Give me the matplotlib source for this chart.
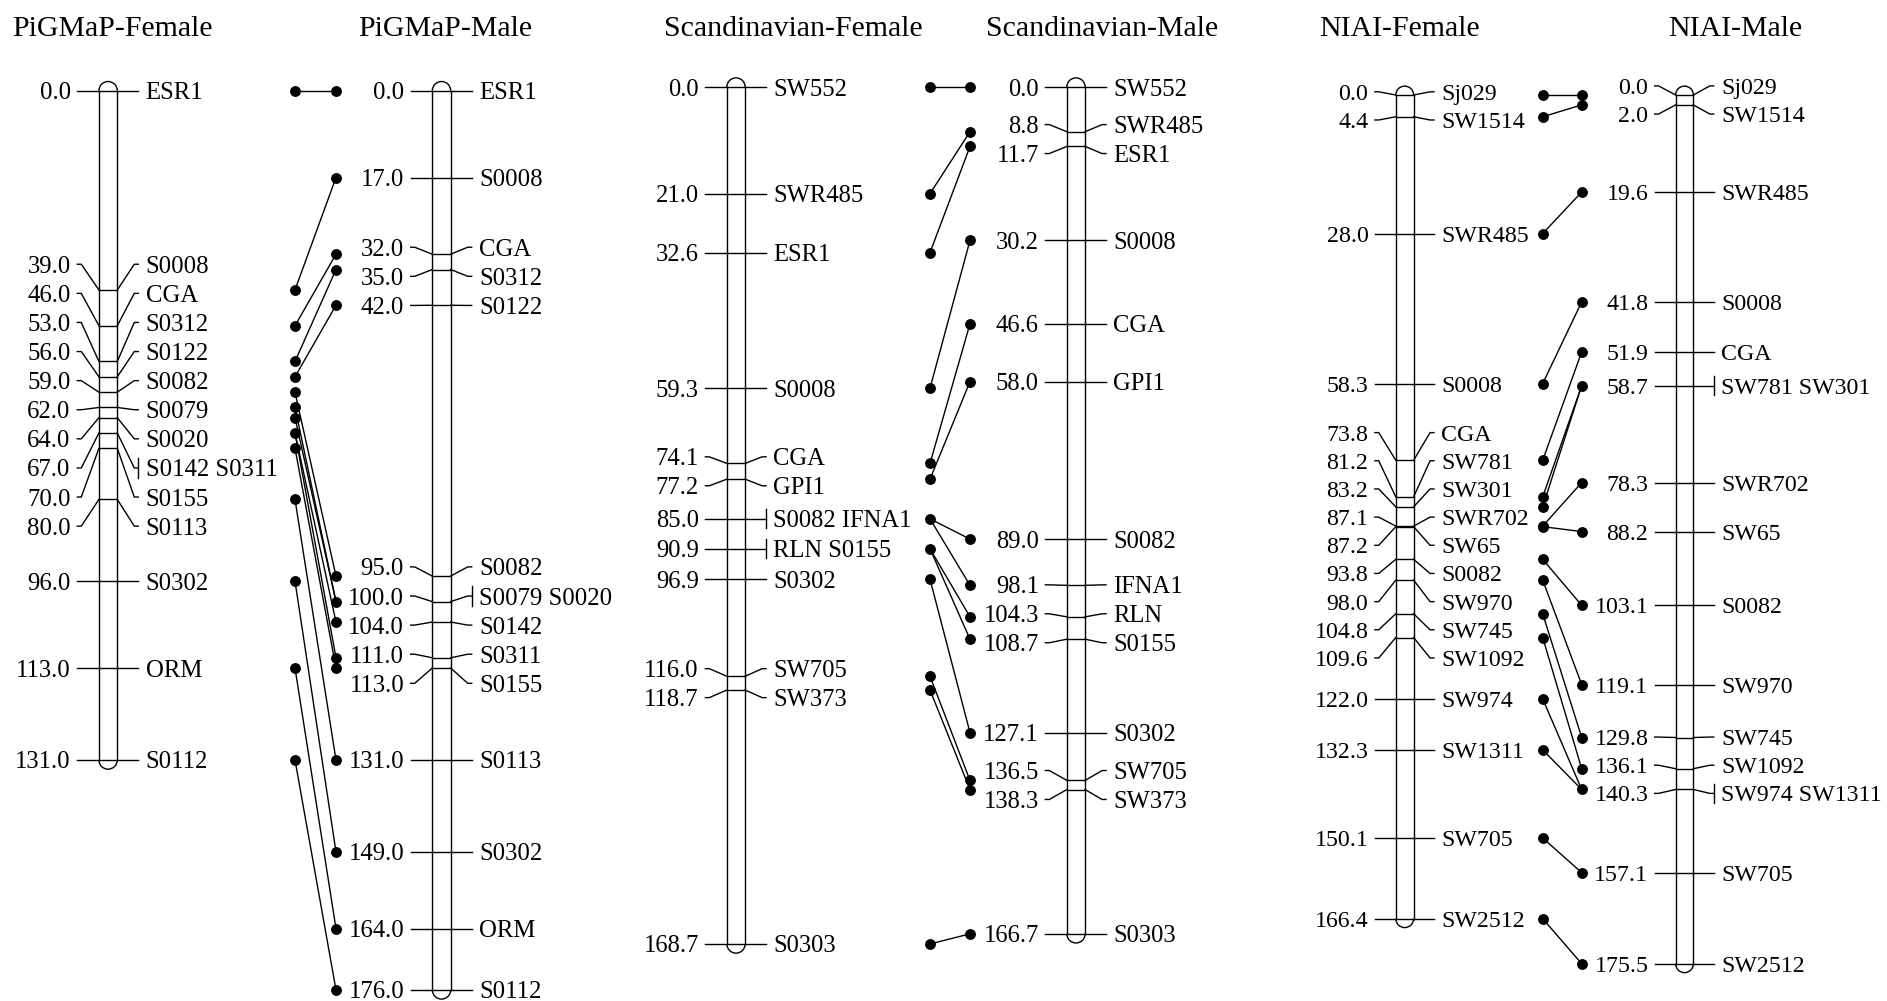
import numpy as np
import matplotlib.pyplot as plt
from matplotlib.patches import Arc

plt.rcParams['font.family'] = ['Liberation Serif', 'DejaVu Serif']

# ---- data: marker names and positions (cM) for each map ----
pig_f_names = ['ESR1', 'S0008', 'CGA', 'S0312', 'S0122', 'S0082', 'S0079', 'S0020',
               'S0142 S0311', 'S0155', 'S0113', 'S0302', 'ORM', 'S0112']
pig_f_pos = [0.0, 39.0, 46.0, 53.0, 56.0, 59.0, 62.0, 64.0, 67.0, 70.0, 80.0, 96.0, 113.0, 131.0]

pig_m_names = ['ESR1', 'S0008', 'CGA', 'S0312', 'S0122', 'S0082', 'S0079 S0020', 'S0142',
               'S0311', 'S0155', 'S0113', 'S0302', 'ORM', 'S0112']
pig_m_pos = [0.0, 17.0, 32.0, 35.0, 42.0, 95.0, 100.0, 104.0, 111.0, 113.0, 131.0, 149.0, 164.0, 176.0]

sca_f_names = ['SW552', 'SWR485', 'ESR1', 'S0008', 'CGA', 'GPI1', 'S0082 IFNA1', 'RLN S0155',
               'S0302', 'SW705', 'SW373', 'S0303']
sca_f_pos = [0.0, 21.0, 32.6, 59.3, 74.1, 77.2, 85.0, 90.9, 96.9, 116.0, 118.7, 168.7]

sca_m_names = ['SW552', 'SWR485', 'ESR1', 'S0008', 'CGA', 'GPI1', 'S0082', 'IFNA1', 'RLN',
               'S0155', 'S0302', 'SW705', 'SW373', 'S0303']
sca_m_pos = [0.0, 8.8, 11.7, 30.2, 46.6, 58.0, 89.0, 98.1, 104.3, 108.7, 127.1, 136.5, 138.3, 166.7]

niai_f_names = ['Sj029', 'SW1514', 'SWR485', 'S0008', 'CGA', 'SW781', 'SW301', 'SWR702', 'SW65',
                'S0082', 'SW970', 'SW745', 'SW1092', 'SW974', 'SW1311', 'SW705', 'SW2512']
niai_f_pos = [0.0, 4.4, 28.0, 58.3, 73.8, 81.2, 83.2, 87.1, 87.2, 93.8, 98.0, 104.8, 109.6,
              122.0, 132.3, 150.1, 166.4]

niai_m_names = ['Sj029', 'SW1514', 'SWR485', 'S0008', 'CGA', 'SW781 SW301', 'SWR702', 'SW65',
                'S0082', 'SW970', 'SW745', 'SW1092', 'SW974 SW1311', 'SW705', 'SW2512']
niai_m_pos = [0.0, 2.0, 19.6, 41.8, 51.9, 58.7, 78.3, 88.2, 103.1, 119.1, 129.8, 136.1, 140.3,
              157.1, 175.5]

titles = ['PiGMaP-Female', 'PiGMaP-Male', 'Scandinavian-Female', 'Scandinavian-Male',
          'NIAI-Female', 'NIAI-Male']

# ---- layout (pixel units) ----
W, H = 1887, 1001
fig = plt.figure(figsize=(W / 100, H / 100), dpi=100)
ax = fig.add_axes([0, 0, 1, 1])
ax.set_xlim(0, W)
ax.set_ylim(H, 0)
ax.axis('off')

LW = 1.0
FS = 17.8


def spread(ys, h):
    # push crowded labels apart, keeping each cluster centred on its markers
    groups = [[y] for y in ys]
    merged = True
    while merged:
        merged = False
        for i in range(len(groups) - 1):
            a, b = groups[i], groups[i + 1]
            sa = np.mean(a) - (len(a) - 1) * h / 2
            sb = np.mean(b) - (len(b) - 1) * h / 2
            if sb < sa + len(a) * h - 1e-6:
                groups[i] = a + b
                del groups[i + 1]
                merged = True
                break
    out = []
    for g in groups:
        s = np.mean(g) - (len(g) - 1) * h / 2
        out += [s + j * h for j in range(len(g))]
    return out


def draw_map(c, names, pos, top, sc, k):
    ys = top + sc * np.array(pos)
    ly = spread(ys, 29.1 * k)
    hw = 9.2 * k
    ax.plot([c - hw, c - hw], [ys[0], ys[-1]], color='k', lw=LW)
    ax.plot([c + hw, c + hw], [ys[0], ys[-1]], color='k', lw=LW)
    ax.add_patch(Arc((c, ys[0]), 2 * hw, 2 * hw, theta1=180, theta2=360, color='k', lw=LW))
    ax.add_patch(Arc((c, ys[-1]), 2 * hw, 2 * hw, theta1=0, theta2=180, color='k', lw=LW))
    xl, xr = c - 30.8 * k, c + 30.2 * k
    for name, p, y, l in zip(names, pos, ys, ly):
        ax.plot([c - hw, c + hw], [y, y], color='k', lw=LW)
        ax.plot([xl, xl + 4 * k, c - hw], [l, l, y], color='k', lw=LW)
        ax.plot([c + hw, xr - 4 * k, xr], [y, l, l], color='k', lw=LW)
        if ' ' in name:
            ax.plot([xr, xr], [l - 9.7 * k, l + 9.7 * k], color='k', lw=LW)
        ax.text(c - 37.4 * k, l, f'{p:.1f}', ha='right', va='center_baseline', fontsize=FS * k)
        ax.text(c + 37.6 * k, l, name, ha='left', va='center_baseline', fontsize=FS * k)
    return ys


def connect(names_a, ys_a, names_b, ys_b, xa, xb):
    lookup = {}
    for n, y in zip(names_b, ys_b):
        for m in n.split():
            lookup[m] = y
    for n, y in zip(names_a, ys_a):
        for m in n.split():
            if m in lookup:
                ax.plot([xa, xb], [y, lookup[m]], color='k', lw=LW)
        ax.plot(xa, y, 'o', color='k', ms=6.8)
    for y in ys_b:
        ax.plot(xb, y, 'o', color='k', ms=6.8)


groups = [
    # (left data, right data, bar centres, top, scale, k, dot xs, title xs)
    ((pig_f_names, pig_f_pos), (pig_m_names, pig_m_pos), (108.1, 441.5), 90.7, 5.109, 1.0,
     (295, 336), (112, 445)),
    ((sca_f_names, sca_f_pos), (sca_m_names, sca_m_pos), (736, 1076), 87.0, 5.08, 0.995,
     (930, 970), (793, 1102)),
    ((niai_f_names, niai_f_pos), (niai_m_names, niai_m_pos), (1404.7, 1684.5), 95.0, 4.95, 0.968,
     (1542.7, 1581.7), (1399, 1735)),
]

for gi, (left, right, cs, top, sc, k, dx, tx) in enumerate(groups):
    ya = draw_map(cs[0], left[0], left[1], top, sc, k)
    yb = draw_map(cs[1], right[0], right[1], top, sc, k)
    connect(left[0], ya, right[0], yb, dx[0], dx[1])
    ax.text(tx[0], 26, titles[2 * gi], ha='center', va='center_baseline', fontsize=21.5)
    ax.text(tx[1], 26, titles[2 * gi + 1], ha='center', va='center_baseline', fontsize=21.5)

fig.savefig('out.png', dpi=100)
